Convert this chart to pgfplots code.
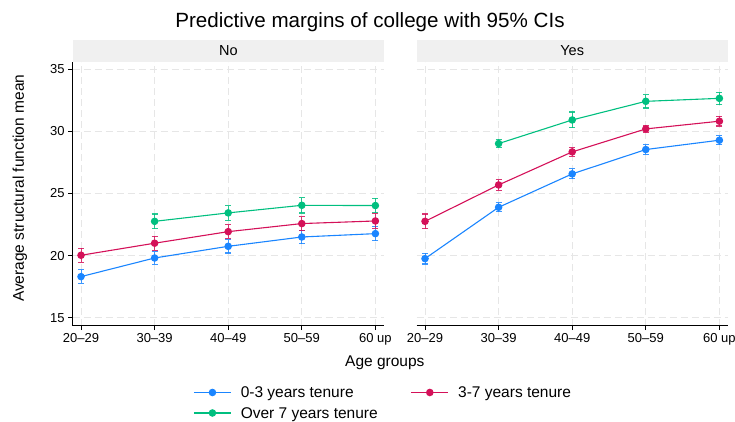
\documentclass[border=0pt]{standalone}
\usepackage{pgfplots}
\pgfplotsset{compat=1.18}
\usepackage{pgfplotstable}
\usepackage{fontspec}
\setmainfont{Liberation Sans}
\definecolor{cb}{HTML}{1A85FF}
\definecolor{cr}{HTML}{D41159}
\definecolor{cg}{HTML}{00BF7F}
\definecolor{hdr}{HTML}{F0F0F0}
\definecolor{grd}{HTML}{E6E6E6}

\pgfplotstableread{
x y e
0 18.31 0.54
1 19.81 0.51
2 20.75 0.54
3 21.50 0.54
4 21.77 0.58
}\NoBlue
\pgfplotstableread{
x y e
0 20.03 0.56
1 21.00 0.56
2 21.93 0.55
3 22.58 0.56
4 22.79 0.60
}\NoRed
\pgfplotstableread{
x y e
1 22.76 0.59
2 23.44 0.58
3 24.05 0.62
4 24.03 0.59
}\NoGreen
\pgfplotstableread{
x y e
0 19.76 0.43
1 23.89 0.36
2 26.58 0.40
3 28.54 0.40
4 29.29 0.35
}\YesBlue
\pgfplotstableread{
x y e
0 22.76 0.59
1 25.69 0.43
2 28.35 0.34
3 30.20 0.28
4 30.82 0.39
}\YesRed
\pgfplotstableread{
x y e
1 29.02 0.34
2 30.92 0.64
3 32.42 0.54
4 32.66 0.50
}\YesGreen

\pgfplotsset{
 panel/.style={
  scale only axis, width=311pt, height=264pt,
  xmin=-0.113, xmax=4.113, ymin=14.36, ymax=35.61,
  xtick={0,...,4}, xticklabels={20--29,30--39,40--49,50--59,60 up},
  ytick={15,20,25,30,35},
  axis x line*=bottom, axis y line*=left,
  tick align=outside, major tick length=4.5pt,
  tick style={black, line width=0.8pt},
  axis line style={black, line width=0.8pt},
  grid=major, grid style={grd, dash pattern=on 7pt off 4pt, line width=0.9pt},
  ticklabel style={font=\fontsize{13}{13}\selectfont},
  /pgf/number format/assume math mode=true,
  every axis plot/.append style={line width=1.1pt, mark=*, mark size=3.2pt},
  clip=false,
 },
 ebar/.style={error bars/.cd, y dir=both, y explicit,
   error bar style={line width=1pt, #1, opacity=0.85},
   error mark options={rotate=90, mark size=3pt, line width=1.1pt, #1}},
}

\begin{document}
\begin{tikzpicture}
\path[use as bounding box] (0,0) rectangle (735pt,422pt);

\node[anchor=base, font=\fontsize{20.6}{20.6}\selectfont] at (370pt,394.7pt) {Predictive margins of college with 95\% CIs};

\fill[hdr] (72.7pt,360.3pt) rectangle (384.3pt,382pt);
\node[font=\fontsize{14.5}{14.5}\selectfont] at (228.5pt,371.15pt) {No};
\fill[hdr] (416.7pt,360.3pt) rectangle (727.7pt,382pt);
\node[font=\fontsize{14.5}{14.5}\selectfont] at (572.2pt,371.15pt) {Yes};

\node[anchor=base, rotate=90, font=\fontsize{15.5}{15.5}\selectfont] at (24pt,233.7pt) {Average structural function mean};
\node[anchor=base, font=\fontsize{15.5}{15.5}\selectfont] at (384.8pt,55.3pt) {Age groups};

\begin{axis}[panel, at={(72.7pt,96.3pt)}, anchor=south west,
  legend columns=2, legend cell align=left,
  legend image code/.code={\draw[mark repeat=2,mark phase=2,#1] plot coordinates {(0pt,0pt) (18.5pt,0pt) (37pt,0pt)};},
  legend style={draw=none, fill=none, inner sep=0pt,
    at={(axis description cs:0.3874,-0.2314)}, anchor=north west,
    font=\fontsize{15.5}{15.5}\selectfont,
    nodes={inner sep=0pt, text height=11pt, text depth=0pt},
    row sep=9.5pt,
    /tikz/every odd column/.append style={column sep=9.3pt},
    /tikz/every even column/.append style={column sep=33pt}},
]
\addplot[cb, ebar=cb] table[x=x, y=y, y error=e] {\NoBlue};
\addlegendentry{0-3 years tenure}
\addplot[cr, ebar=cr] table[x=x, y=y, y error=e] {\NoRed};
\addlegendentry{3-7 years tenure}
\addplot[cg, ebar=cg] table[x=x, y=y, y error=e] {\NoGreen};
\addlegendentry{Over 7 years tenure}
\end{axis}

\begin{axis}[panel, at={(416.7pt,96.3pt)}, anchor=south west,
  yticklabels={}, y tick style={draw=none}, y axis line style={draw=none}]
\addplot[cb, ebar=cb] table[x=x, y=y, y error=e] {\YesBlue};
\addplot[cr, ebar=cr] table[x=x, y=y, y error=e] {\YesRed};
\addplot[cg, ebar=cg] table[x=x, y=y, y error=e] {\YesGreen};
\end{axis}
\end{tikzpicture}
\end{document}
